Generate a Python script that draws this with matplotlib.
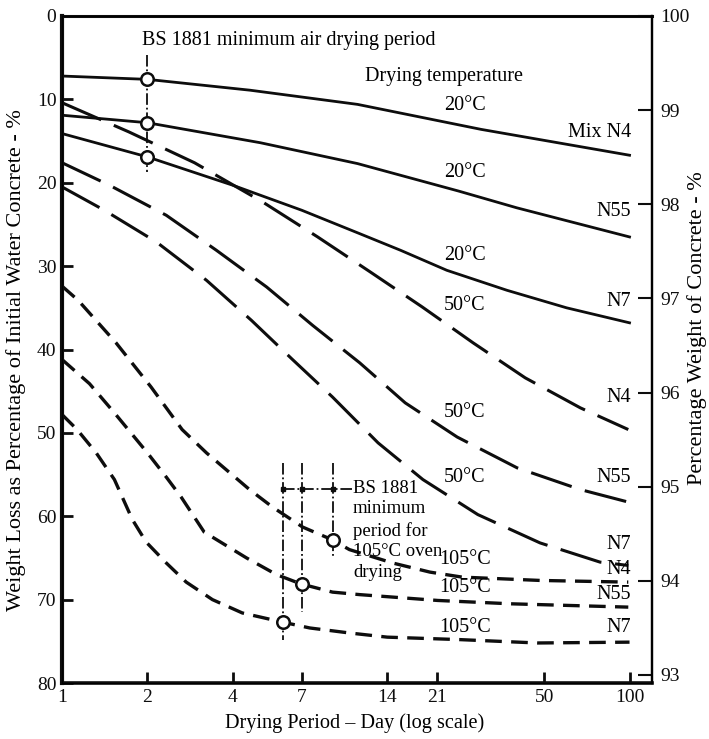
import matplotlib
matplotlib.use("Agg")
import matplotlib.pyplot as plt
from matplotlib.ticker import NullLocator

plt.rcParams['font.family'] = ['Liberation Serif', 'DejaVu Serif']

# Weight loss (% of initial water) against drying period (days)
# 20 °C air drying (solid)
n4_20_days = [1, 2, 4.6, 11, 30, 100]
n4_20_loss = [7.2, 7.6, 8.9, 10.6, 13.6, 16.7]
n55_20_days = [1, 2, 5, 11, 25, 40, 100]
n55_20_loss = [11.9, 12.8, 15.2, 17.7, 21.0, 23.0, 26.5]
n7_20_days = [1, 2, 4, 7, 11, 15.6, 22.7, 37, 60, 100]
n7_20_loss = [14.1, 16.9, 20.3, 23.3, 26.0, 28.1, 30.5, 32.9, 35.0, 36.8]

# 50 °C drying (long dashes)
n4_50_days = [1, 1.72, 2.93, 5.09, 7.96, 12.2, 18.6, 28.1, 42.9, 67.1, 99]
n4_50_loss = [10.4, 13.9, 17.6, 22.3, 26.5, 30.7, 34.9, 39.2, 43.4, 47.0, 49.6]
n55_50_days = [1, 1.47, 2.33, 3.5, 5.26, 7.64, 11.2, 16.2, 24.7, 40.2, 67.1, 99]
n55_50_loss = [17.6, 20.3, 23.9, 28.1, 32.5, 37.1, 41.6, 46.4, 50.5, 54.2, 56.8, 58.3]
n7_50_days = [1, 1.41, 2.15, 3.23, 4.65, 6.49, 8.98, 13.0, 18.7, 29.2, 48.4, 78.7, 99]
n7_50_loss = [20.5, 23.3, 27.1, 31.7, 36.5, 41.2, 45.7, 51.2, 55.6, 59.8, 63.2, 65.5, 65.9]

# 105 °C oven drying (short dashes)
n4_105_days = [1, 1.14, 1.55, 2.06, 2.65, 3.23, 4.58, 5.52, 7.05, 8.93, 10.3, 14.6, 19.8, 25.7, 48.5, 99]
n4_105_loss = [32.4, 34.1, 39.2, 44.5, 49.6, 52.4, 56.8, 58.9, 61.3, 62.8, 64.0, 65.6, 66.7, 67.3, 67.7, 67.9]
n55_105_days = [1, 1.25, 1.53, 2.0, 2.33, 2.63, 3.17, 4.47, 5.7, 6.93, 8.98, 11.2, 21.1, 38.1, 99]
n55_105_loss = [41.2, 44.1, 47.6, 52.4, 55.3, 57.7, 61.9, 65.0, 67.0, 68.1, 69.1, 69.4, 70.1, 70.5, 70.9]
n7_105_days = [1, 1.13, 1.32, 1.53, 1.77, 1.98, 2.33, 2.74, 3.39, 4.32, 5.99, 7.47, 10.3, 14.0, 25.4, 47.3, 100]
n7_105_loss = [47.8, 49.6, 52.4, 55.6, 60.4, 63.1, 65.6, 67.9, 70.0, 71.6, 72.7, 73.4, 74.0, 74.5, 74.8, 75.2, 75.1]

# BS 1881 marker points
air_marker_days = [2, 2, 2]
air_marker_loss = [7.6, 12.8, 16.9]
oven_marker_days = [6, 7, 9]
oven_marker_loss = [72.7, 68.1, 62.8]

x_ticks = [1, 2, 4, 7, 14, 21, 50, 100]
left_ticks = [0, 10, 20, 30, 40, 50, 60, 70, 80]
right_ticks = [93, 94, 95, 96, 97, 98, 99, 100]

fig = plt.figure(figsize=(7.09, 7.39), dpi=100)
ax = fig.add_axes([62 / 709, 1 - 683 / 739, 590 / 709, 667 / 739])

ax.set_xscale('log')
ax.set_xlim(1, 120)
ax.set_ylim(80, 0)

ink = '#0d0d0d'
ax.plot(n4_20_days, n4_20_loss, color=ink, lw=2.0)
ax.plot(n55_20_days, n55_20_loss, color=ink, lw=2.0)
ax.plot(n7_20_days, n7_20_loss, color=ink, lw=2.0)

long_dash = (0, (14, 4.5))
for d, l in [(n4_50_days, n4_50_loss), (n55_50_days, n55_50_loss), (n7_50_days, n7_50_loss)]:
    ax.plot(d, l, color=ink, lw=2.2, linestyle=long_dash)

short_dash = (0, (5, 2.8))
for d, l in [(n4_105_days, n4_105_loss), (n55_105_days, n55_105_loss), (n7_105_days, n7_105_loss)]:
    ax.plot(d, l, color=ink, lw=2.4, linestyle=short_dash)

# BS 1881 air-drying period line
ax.plot([2, 2], [4.7, 18.7], color=ink, lw=1.3, linestyle='-.')
# BS 1881 oven-drying period lines
ax.plot([6, 6], [53.6, 74.8], color=ink, lw=1.3, linestyle='-.')
ax.plot([7, 7], [53.6, 71.5], color=ink, lw=1.3, linestyle='-.')
ax.plot([9, 9], [53.6, 64.9], color=ink, lw=1.3, linestyle='-.')
ax.plot([6, 10.5], [56.7, 56.7], color=ink, lw=1.3, linestyle='-.')
ax.plot([6, 7, 9], [56.7, 56.7, 56.7], 's', ms=3.5, color=ink)

ax.plot(air_marker_days, air_marker_loss, 'o', ms=9, mfc='white', mec=ink, mew=1.8, zorder=5)
ax.plot(oven_marker_days, oven_marker_loss, 'o', ms=9, mfc='white', mec=ink, mew=1.8, zorder=5)

ax.set_xticks(x_ticks)
ax.set_xticklabels([str(t) for t in x_ticks])
ax.xaxis.set_minor_locator(NullLocator())
ax.set_yticks(left_ticks)
ax.tick_params(direction='in', length=8, width=2, labelsize=14, pad=4, colors=ink)

for side, w in [('left', 3.0), ('bottom', 2.6), ('top', 2.2), ('right', 1.6)]:
    ax.spines[side].set_linewidth(w)
    ax.spines[side].set_color(ink)

ax2 = ax.twinx()
ax2.set_ylim(92.915, 100)
ax2.set_yticks(right_ticks)
ax2.tick_params(direction='in', length=10, width=1.5, labelsize=14, pad=6, colors=ink)
ax2.spines['right'].set_linewidth(1.6)

fig.text(355 / 709, 1 - 723 / 739, 'Drying Period \u2013 Day (log scale)', fontsize=14.6,
         ha='center', va='center')
fig.text(16 / 709, 1 - 360 / 739, 'Weight Loss as Percentage of Initial Water Concrete - %',
         fontsize=16, rotation=90, ha='center', va='center')
fig.text(697 / 709, 1 - 328 / 739, 'Percentage Weight of Concrete - %',
         fontsize=16, rotation=90, ha='center', va='center')

fs = 14.5
ax.text(1.92, 2.9, 'BS 1881 minimum air drying period', fontsize=fs, va='center', ha='left')
ax.text(11.7, 7.3, 'Drying temperature', fontsize=fs, va='center', ha='left')

temp_x = 26.3
for y, s in [(10.7, '20°C'), (18.8, '20°C'), (28.7, '20°C'),
             (34.7, '50°C'), (47.6, '50°C'), (55.4, '50°C'),
             (65.2, '105°C'), (68.6, '105°C'), (73.3, '105°C')]:
    ax.text(temp_x, y, s, fontsize=fs, va='center', ha='center')

mix_x = 101
for y, s in [(14.0, 'Mix N4'), (23.5, 'N55'), (34.3, 'N7'),
             (45.7, 'N4'), (55.3, 'N55'), (63.4, 'N7'),
             (66.4, 'N4'), (69.4, 'N55'), (73.4, 'N7')]:
    ax.text(mix_x, y, s, fontsize=fs, va='center', ha='right')

ax.text(10.6, 55.6, 'BS 1881\nminimum\nperiod for\n105°C oven\ndrying', fontsize=13.5,
        va='top', ha='left', linespacing=1.3)

fig.savefig('out.png', dpi=100)
